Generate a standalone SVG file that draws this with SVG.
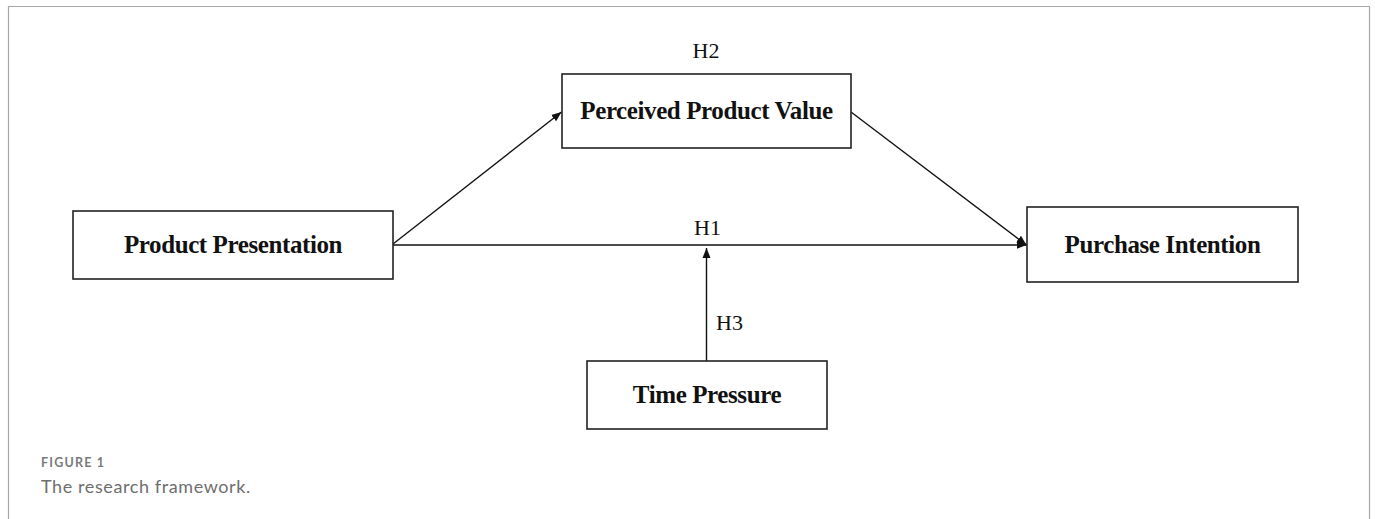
<svg xmlns="http://www.w3.org/2000/svg" width="1375" height="519" viewBox="0 0 1375 519">
  <defs>
    <marker id="arrow" viewBox="0 0 10 10" refX="10" refY="5" markerWidth="10" markerHeight="10" markerUnits="userSpaceOnUse" orient="auto">
      <path d="M0,1 L10,5 L0,9 Z" fill="#111"/>
    </marker>
    <style>
      .frame { fill: none; stroke: #a8a8a8; stroke-width: 1.2; }
      .box { fill: #fff; stroke: #222; stroke-width: 1.6; }
      .label { font-family: "Liberation Serif", "Times New Roman", serif; font-weight: bold; font-size: 25px; letter-spacing: -0.4px; fill: #111; text-anchor: middle; }
      .hyp { font-family: "Liberation Serif", "Times New Roman", serif; font-size: 22px; fill: #111; }
      .edge { stroke: #111; stroke-width: 1.4; fill: none; }
      .cap-title { font-family: Lato, "Open Sans", sans-serif; font-weight: bold; font-size: 12.5px; letter-spacing: 1.2px; fill: #7a7a7a; }
      .cap-text { font-family: Lato, "Open Sans", sans-serif; font-size: 18px; letter-spacing: 0.6px; fill: #6e6e6e; }
    </style>
  </defs>

  <rect width="1375" height="519" fill="#fff"/>
  <path class="frame" d="M8.5,519 V6.5 H1369.5 V519"/>

  <g id="connectors">
    <line class="edge" x1="393" y1="244" x2="561.5" y2="112" marker-end="url(#arrow)"/>
    <line class="edge" x1="851" y1="112" x2="1026.5" y2="245" marker-end="url(#arrow)"/>
    <line class="edge" x1="393" y1="245" x2="1026.5" y2="245" marker-end="url(#arrow)"/>
    <line class="edge" x1="706.5" y1="361" x2="706.5" y2="248" marker-end="url(#arrow)"/>
    <text class="hyp" x="706" y="58" text-anchor="middle">H2</text>
    <text class="hyp" x="707.5" y="235" text-anchor="middle">H1</text>
    <text class="hyp" x="716" y="330">H3</text>
  </g>

  <g id="node-perceived-value">
    <rect class="box" x="562" y="74" width="289" height="74"/>
    <text class="label" x="706.5" y="119">Perceived Product Value</text>
  </g>

  <g id="node-product-presentation">
    <rect class="box" x="73" y="211" width="320" height="68"/>
    <text class="label" x="233" y="253">Product Presentation</text>
  </g>

  <g id="node-purchase-intention">
    <rect class="box" x="1027" y="207" width="271" height="75"/>
    <text class="label" x="1162.5" y="253">Purchase Intention</text>
  </g>

  <g id="node-time-pressure">
    <rect class="box" x="587" y="361" width="240" height="68"/>
    <text class="label" x="707" y="403">Time Pressure</text>
  </g>

  <g id="caption">
    <text class="cap-title" x="41" y="467">FIGURE 1</text>
    <text class="cap-text" x="41" y="493">The research framework.</text>
  </g>
</svg>
